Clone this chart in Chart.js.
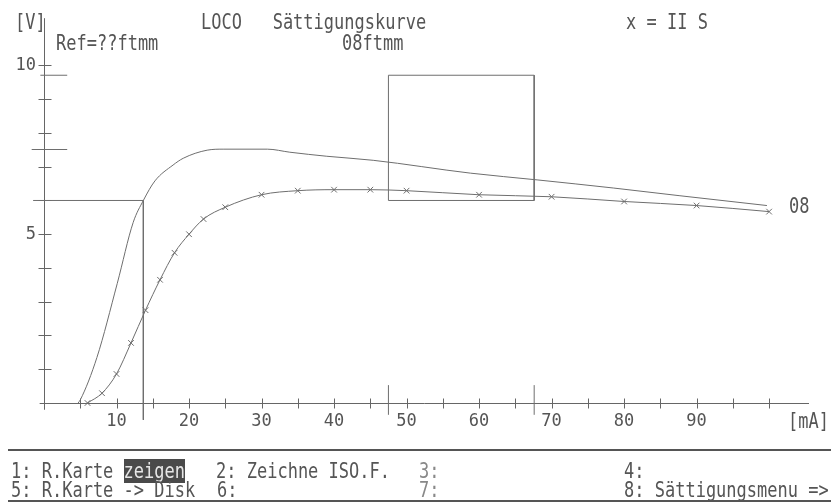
<!DOCTYPE html>
<html><head><meta charset="utf-8">
<script src="https://cdn.jsdelivr.net/npm/chart.js@4.4.1/dist/chart.umd.min.js"></script>
<style>
html,body{margin:0;padding:0;background:#fff;}
#wrap{position:relative;width:831px;height:503px;overflow:hidden;background:#fff;}
#wrap canvas{position:absolute;left:0;top:0;}
.t{position:absolute;font-family:'DejaVu Sans Mono',monospace;font-size:17px;line-height:20px;white-space:pre;color:#555;transform:scaleY(1.2);transform-origin:left center;}
.lt{color:#888;}
.inv{background:#4a4a4a;color:#e6e6e6;}
.rule{position:absolute;left:8px;width:823px;height:2px;background:#555;}
</style></head><body>
<div id="wrap">
<canvas id="c" width="831" height="503"></canvas>
<div class="t" style="left:15px;top:12px">[V]</div>
<div class="t" style="left:201px;top:12px">LOCO   Sättigungskurve</div>
<div class="t" style="left:626px;top:12px">x = II S</div>
<div class="t" style="left:56px;top:33px">Ref=??ftmm</div>
<div class="t" style="left:342px;top:33px">08ftmm</div>
<div class="t" style="left:789px;top:196px">08</div>
<div class="t" style="left:788px;top:411px">[mA]</div>
<div class="rule" style="top:449px"></div>
<div class="t" style="left:11px;top:461px">1: R.Karte <span class="inv">zeigen</span></div>
<div class="t" style="left:216px;top:461px">2: Zeichne ISO.F.</div>
<div class="t lt" style="left:419px;top:461px">3:</div>
<div class="t" style="left:624px;top:461px">4:</div>
<div class="t" style="left:11px;top:480px">5: R.Karte -&gt; Disk</div>
<div class="t" style="left:217px;top:480px">6:</div>
<div class="t lt" style="left:419px;top:480px">7:</div>
<div class="t" style="left:624px;top:480px">8: Sättigungsmenu =&gt;</div>
<div class="rule" style="top:500px"></div>
</div>
<script>
// ---- data (mA, V) ----
const upperMA = [4.7, 5.0, 7.3, 10.1, 12.3, 13.7, 15.3, 17.8, 19.2, 22.5, 24.7, 30.8, 33.9, 39.0, 45.4, 58.8, 68.0, 78.5, 87.7, 99.7];
const upperV  = [0.0, 0.09, 1.35, 3.54, 5.35, 6.0, 6.58, 7.05, 7.25, 7.49, 7.52, 7.52, 7.43, 7.31, 7.19, 6.81, 6.61, 6.37, 6.14, 5.85];
const lowerMA = [6, 8, 10, 12, 14, 16, 18, 20, 22, 25, 30, 35, 40, 45, 50, 60, 70, 80, 90, 100];
const lowerV  = [0.0, 0.29, 0.86, 1.78, 2.75, 3.65, 4.45, 5.0, 5.45, 5.8, 6.17, 6.29, 6.32, 6.32, 6.29, 6.17, 6.11, 5.97, 5.85, 5.67];
const boxMA   = [47.5, 47.5, 67.6, 67.6, 47.5];
const boxV    = [6.0, 9.71, 9.71, 6.0, 6.0];
const crossMA = [-1.5, 13.7, 13.7];
const crossV  = [6.0, 6.0, -0.5];
const maxMarkMA = [-1.7, 3.2];
const maxMarkV  = [7.51, 7.51];
const topMarkMA = [-0.5, 3.2];
const topMarkV  = [9.71, 9.71];
const axisMarkMA = [47.5, 47.5, 47.5, 67.6, 67.6];
const axisMarkV  = [-0.35, 0.53, null, -0.35, 0.53];
const xTickLabels = [10, 20, 30, 40, 50, 60, 70, 80, 90];
const yTickLabels = [5, 10];
const xMinorTicks = [5,10,15,20,25,30,35,40,45,50,55,60,65,70,75,80,85,90,95,100];
const yMinorTicks = [1,2,3,4,5,6,7,8,9,10];

const pts = (xs, ys) => xs.map((v, i) => ({x: v, y: ys[i]}));
const LC = '#6e6e6e';

const axesPlugin = {
  id: 'axes',
  beforeDatasetsDraw(chart) {
    const {ctx, scales: {x, y}} = chart;
    ctx.save();
    ctx.strokeStyle = '#666';
    ctx.lineWidth = 1;
    const x0 = Math.round(x.getPixelForValue(0)) + 0.5;
    const y0 = Math.round(y.getPixelForValue(0)) + 0.5;
    ctx.beginPath();
    ctx.moveTo(x.getPixelForValue(-0.6), y0);
    ctx.lineTo(x.getPixelForValue(105.5), y0);
    ctx.moveTo(x0, y.getPixelForValue(-0.2));
    ctx.lineTo(x0, y.getPixelForValue(11.4));
    xMinorTicks.forEach(v => {
      const px = Math.round(x.getPixelForValue(v)) + 0.5;
      ctx.moveTo(px, y0 - 5); ctx.lineTo(px, y0 + 5);
    });
    yMinorTicks.forEach(v => {
      const py = Math.round(y.getPixelForValue(v)) + 0.5;
      ctx.moveTo(x0 - 6, py); ctx.lineTo(x0 + 7, py);
    });
    ctx.stroke();
    ctx.restore();
  }
};

const base = {borderColor: LC, borderWidth: 1, pointRadius: 0, fill: false, clip: false, tension: 0};

new Chart(document.getElementById('c'), {
  type: 'line',
  data: {
    datasets: [
      Object.assign({}, base, {label: 'Ref', data: pts(upperMA, upperV), cubicInterpolationMode: 'monotone'}),
      Object.assign({}, base, {label: '08', data: pts(lowerMA, lowerV), cubicInterpolationMode: 'monotone',
        pointRadius: 4, pointStyle: 'crossRot', pointBorderColor: LC, pointBorderWidth: 1}),
      Object.assign({}, base, {label: 'box', data: pts(boxMA, boxV)}),
      Object.assign({}, base, {label: 'cross', data: pts(crossMA, crossV)}),
      Object.assign({}, base, {label: 'max', data: pts(maxMarkMA, maxMarkV)}),
      Object.assign({}, base, {label: 'top', data: pts(topMarkMA, topMarkV)}),
      Object.assign({}, base, {label: 'axisMarks', data: pts(axisMarkMA, axisMarkV), spanGaps: false})
    ]
  },
  options: {
    responsive: false,
    animation: false,
    devicePixelRatio: 1,
    layout: {padding: {left: 0, right: 22, top: 13, bottom: 0}},
    plugins: {legend: {display: false}, tooltip: {enabled: false}},
    scales: {
      x: {
        type: 'linear', min: 0, max: 105.5,
        afterFit(s) { s.height = 100; },
        afterBuildTicks(s) { s.ticks = xTickLabels.map(v => ({value: v})); },
        grid: {display: false, drawTicks: false},
        border: {display: false},
        ticks: {padding: 8, autoSkip: false, maxRotation: 0, minRotation: 0, color: '#555',
          font: {family: 'DejaVu Sans Mono', size: 17}}
      },
      y: {
        type: 'linear', min: 0, max: 11.4,
        afterFit(s) { s.width = 44; },
        afterBuildTicks(s) { s.ticks = yTickLabels.map(v => ({value: v})); },
        grid: {display: false, drawTicks: false},
        border: {display: false},
        ticks: {padding: 8, color: '#555', font: {family: 'DejaVu Sans Mono', size: 17}}
      }
    }
  },
  plugins: [axesPlugin]
});
</script>
</body></html>
